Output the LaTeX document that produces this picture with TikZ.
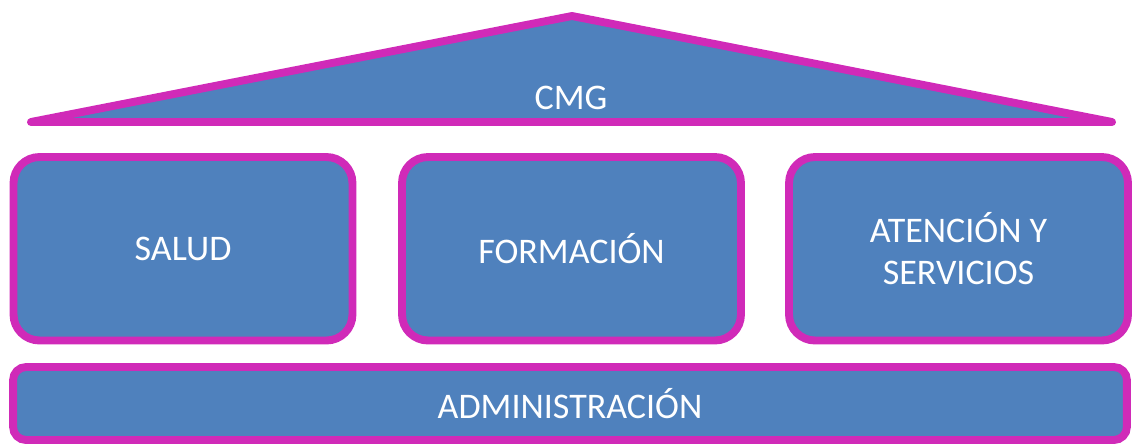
\documentclass[tikz,border=0pt]{standalone}
\usepackage{fontspec}
\setmainfont{Carlito}
\definecolor{pillarblue}{HTML}{4F81BD}
\definecolor{pillaredge}{HTML}{D02AB8}
\tikzset{
  block/.style={draw=pillaredge, fill=pillarblue, line width=4.5pt,
    text=white, font=\fontsize{20.5}{24}\selectfont, align=center, inner sep=0pt},
  pillar/.style={block, rounded corners=0.52cm,
    minimum width=6.78cm, minimum height=3.67cm},
  base/.style={block, rounded corners=0.26cm,
    minimum width=22.28cm, minimum height=1.46cm},
}

\begin{document}
\begin{tikzpicture}[x=0.02cm, y=-0.02cm]
  \useasboundingbox (0,0) rectangle (1132,444);
  % roof
  \coordinate (apex) at (572,16);
  \coordinate (eaveL) at (31,122);
  \coordinate (eaveR) at (1112,122);
  \filldraw[draw=pillaredge, fill=pillarblue, line width=4.5pt,
    line join=round, line cap=round]
    (eaveL) -- (apex) -- (eaveR) -- cycle;
  \node[text=white, font=\fontsize{20.5}{24}\selectfont] (cmg) at (571,98) {CMG};

  % pillars
  \node[pillar] (salud) at (183,248.75) {SALUD};
  \node[pillar] (formacion) at (571.5,248.75) {FORMACIÓN};
  \node[pillar] (atencion) at (958.5,248.75) {ATENCIÓN Y\\SERVICIOS};

  % base
  \node[base] (admin) at (570,403.5) {ADMINISTRACIÓN};
\end{tikzpicture}
\end{document}
